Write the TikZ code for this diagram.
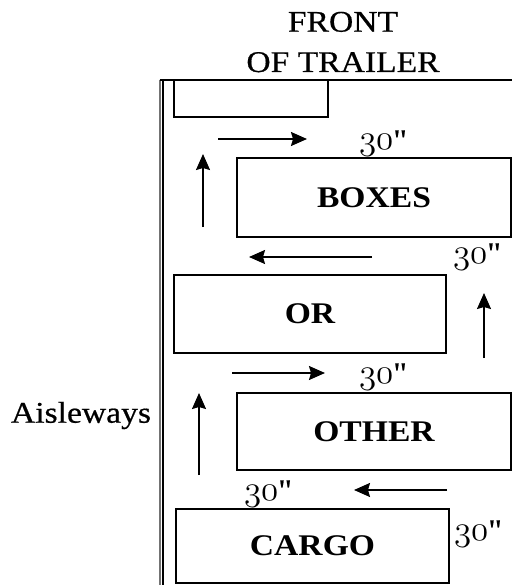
\RequirePackage{fix-cm}
\documentclass[tikz,border=0pt]{standalone}
\usepackage{fontspec}
\setmainfont{Liberation Serif}[FakeStretch=1.12, Ligatures=TeXOff, UprightFeatures={FakeBold=0.6}]
\usetikzlibrary{arrows.meta}
\newcommand\osnum[1]{{\fontencoding{OML}\fontfamily{cmm}\fontseries{m}\fontshape{it}\fontsize{35}{40}\selectfont #1}}
\begin{document}
\begin{tikzpicture}[x=1pt,y=-1pt,
  load/.style={draw, line width=1.7pt, inner sep=0pt},
  flow/.style={line width=1.7pt, -{Stealth[length=16pt,width=14pt,inset=2pt]}},
  lbl/.style={font=\fontsize{30}{35}\selectfont, inner sep=0pt},
  dim/.style={lbl, anchor=base}]
\useasboundingbox (0,0) rectangle (512,585);
% trailer walls
\draw[line width=1.2pt, black!55] (160,80) -- (160,585);
\draw[line width=1.7pt] (163,585) -- (163,80);
\draw[line width=1.7pt] (159.5,80) -- (512,80);
% loads
\node[load, minimum width=154pt, minimum height=37pt] (topload) at (251,98.5) {};
\node[load, lbl, draw, minimum width=274pt, minimum height=79pt] (boxes) at (374,197.5) {\bfseries BOXES};
\node[load, lbl, draw, minimum width=272pt, minimum height=78pt] (or) at (310,314) {\bfseries OR};
\node[load, lbl, draw, minimum width=274pt, minimum height=77pt] (other) at (374,431.5) {\bfseries OTHER};
\node[load, lbl, draw, minimum width=273pt, minimum height=74pt] (cargo) at (312.5,546) {\bfseries CARGO};
% titles
\node[lbl, anchor=base] (front) at (343,31.7) {FRONT};
\node[lbl, anchor=base] (oftrailer) at (343,72) {OF TRAILER};
\node[lbl, anchor=base] (aisle) at (81,422.7) {Aisleways};
% dimensions
\node[dim] (d1) at (383,150) {\osnum{30}"};
\node[dim] (d2) at (477,263) {\osnum{30}"};
\node[dim] (d3) at (383,383) {\osnum{30}"};
\node[dim] (d4) at (268,500) {\osnum{30}"};
\node[dim] (d5) at (478,540) {\osnum{30}"};
% arrows
\coordinate (a1s) at (218,139); \coordinate (a1e) at (307,139);
\coordinate (a2s) at (203,227); \coordinate (a2e) at (203,154);
\coordinate (a3s) at (372,257); \coordinate (a3e) at (249,257);
\coordinate (a4s) at (484,358); \coordinate (a4e) at (484,293);
\coordinate (a5s) at (232,373); \coordinate (a5e) at (325,373);
\coordinate (a6s) at (199,475); \coordinate (a6e) at (199,393);
\coordinate (a7s) at (447,490); \coordinate (a7e) at (354,490);
\draw[flow] (a1s) -- (a1e);
\draw[flow] (a2s) -- (a2e);
\draw[flow] (a3s) -- (a3e);
\draw[flow] (a4s) -- (a4e);
\draw[flow] (a5s) -- (a5e);
\draw[flow] (a6s) -- (a6e);
\draw[flow] (a7s) -- (a7e);
\end{tikzpicture}
\end{document}
